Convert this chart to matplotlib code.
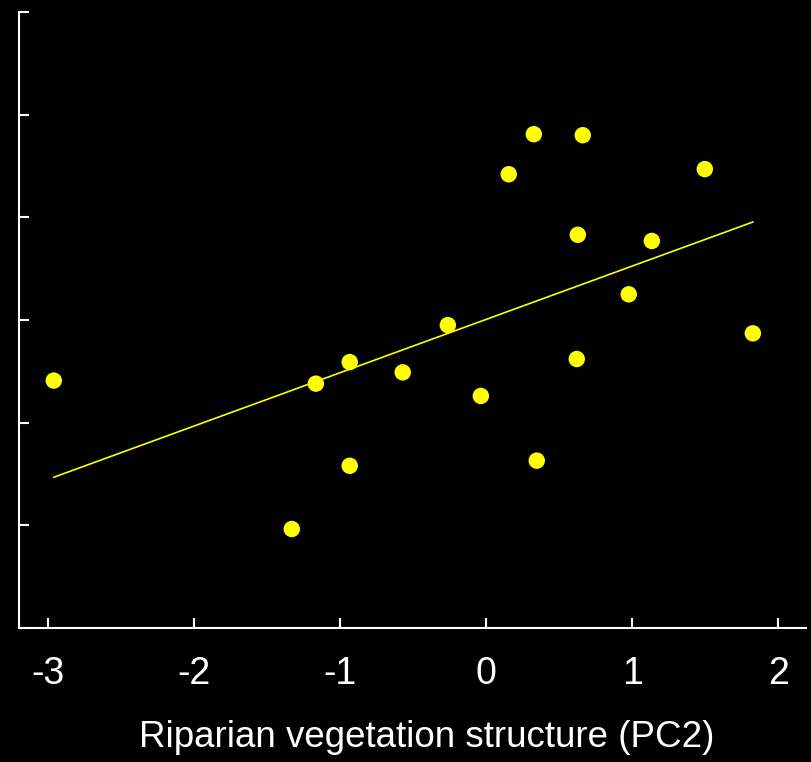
import numpy as np
import matplotlib
matplotlib.use('Agg')
import matplotlib.pyplot as plt

plt.rcParams['font.family'] = ['Liberation Sans', 'DejaVu Sans']

# Riparian vegetation structure (PC2) vs response (unlabelled y axis)
pc2 = [-2.963, -1.333, -1.168, -0.936, -0.936, -0.573, -0.264, -0.038, 0.153,
       0.325, 0.345, 0.660, 0.626, 0.619, 0.975, 1.133, 1.496, 1.825]
resp = [2.41, 0.964, 2.38, 2.59, 1.58, 2.49, 2.95, 2.26, 4.42,
        4.81, 1.63, 4.80, 3.83, 2.62, 3.25, 3.77, 4.47, 2.87]
xticks = [-3, -2, -1, 0, 1, 2]
yticks = [0, 1, 2, 3, 4, 5, 6]

x = np.array(pc2)
y = np.array(resp)
slope, icpt = np.polyfit(x, y, 1)
xl = np.array([x.min(), x.max()])

fig = plt.figure(figsize=(8.11, 7.62), dpi=100, facecolor='black')
ax = fig.add_axes([0.024, 0.1759, 0.970, 0.8083], facecolor='black')

ax.plot(xl, slope * xl + icpt, color='#ffff00', lw=1.2, zorder=2)
ax.scatter(x, y, s=140, color='#ffff00', edgecolors='none', zorder=3)

ax.set_xlim(-3.198, 2.19)
ax.set_ylim(0, 6)
ax.set_xticks(xticks)
ax.set_xticklabels([str(t) for t in xticks])
ax.set_yticks(yticks)
ax.set_yticklabels([])

for s in ['top', 'right']:
    ax.spines[s].set_visible(False)
for s in ['left', 'bottom']:
    ax.spines[s].set_color('white')
    ax.spines[s].set_linewidth(1.5)

ax.tick_params(axis='both', direction='in', colors='white', length=7, width=1.5)
ax.tick_params(axis='x', labelsize=27, pad=20)
ax.set_xlabel('Riparian vegetation structure (PC2)', color='white', fontsize=26.5)
ax.xaxis.set_label_coords(0.5177, -0.150)

plt.savefig('out.png', dpi=100, facecolor='black')
